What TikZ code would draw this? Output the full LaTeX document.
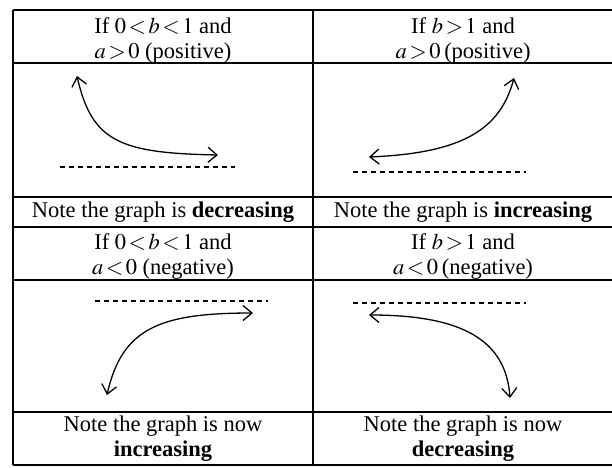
\documentclass[tikz,border=0pt]{standalone}
\usepackage{mathptmx}
\usepackage{fontspec}
\setmainfont{Liberation Serif}
\usetikzlibrary{arrows.meta}
\thickmuskip=2mu plus 1mu\relax

\begin{document}
\begin{tikzpicture}[x=1pt, y=-1pt,
    cell/.style={align=center, inner sep=0pt, font=\fontsize{22.5}{25}\selectfont},
    rule/.style={line width=1.3pt},
    curve/.style={line width=1.3pt, {Straight Barb[length=9pt,width=15pt]}-{Straight Barb[length=9pt,width=15pt]}},
    asym/.style={line width=1.1pt, dash pattern=on 5pt off 4pt}]
    \useasboundingbox (0,0) rectangle (612,467);

    % Table rules
    \foreach \y in {10,63,197,227,280,412,465}
        \draw[rule] (13,\y) -- (614,\y);
    \draw[rule] (13,10) -- (13,465);
    \draw[rule] (313,10) -- (313,465);

    % Headers
    \node[cell] (hdA) at (163,40) {If $0<b<1$ and\\$a>0$ (positive)};
    \node[cell] (hdB) at (463,40) {If $b>1$ and\\$a>0$\,(positive)};
    \node[cell] (hdC) at (163,256) {If $0<b<1$ and\\$a<0$ (negative)};
    \node[cell] (hdD) at (463,256) {If $b>1$ and\\$a<0$\,(negative)};

    % Notes
    \node[cell] (noteA) at (163,212) {Note the graph is \textbf{decreasing}};
    \node[cell] (noteB) at (463,212) {Note the graph is \textbf{increasing}};
    \node[cell] (noteC) at (163,439) {Note the graph is now\\\textbf{increasing}};
    \node[cell] (noteD) at (463,439) {Note the graph is now\\\textbf{decreasing}};

    % Asymptotes
    \draw[asym] (60,167) -- (235,167);
    \draw[asym] (353,172) -- (526,172);
    \draw[asym] (95,301) -- (268,301);
    \draw[asym] (353,303) -- (526,303);

    % Curves
    \draw[curve] (77,76) .. controls (92,142) and (120,153) .. (218,155);
    \draw[curve] (369,157) .. controls (462,153) and (500,130) .. (514,78);
    \draw[curve] (107,395) .. controls (122,328) and (160,313) .. (253,313);
    \draw[curve] (369,315) .. controls (462,315) and (506,340) .. (510,398);
\end{tikzpicture}
\end{document}
